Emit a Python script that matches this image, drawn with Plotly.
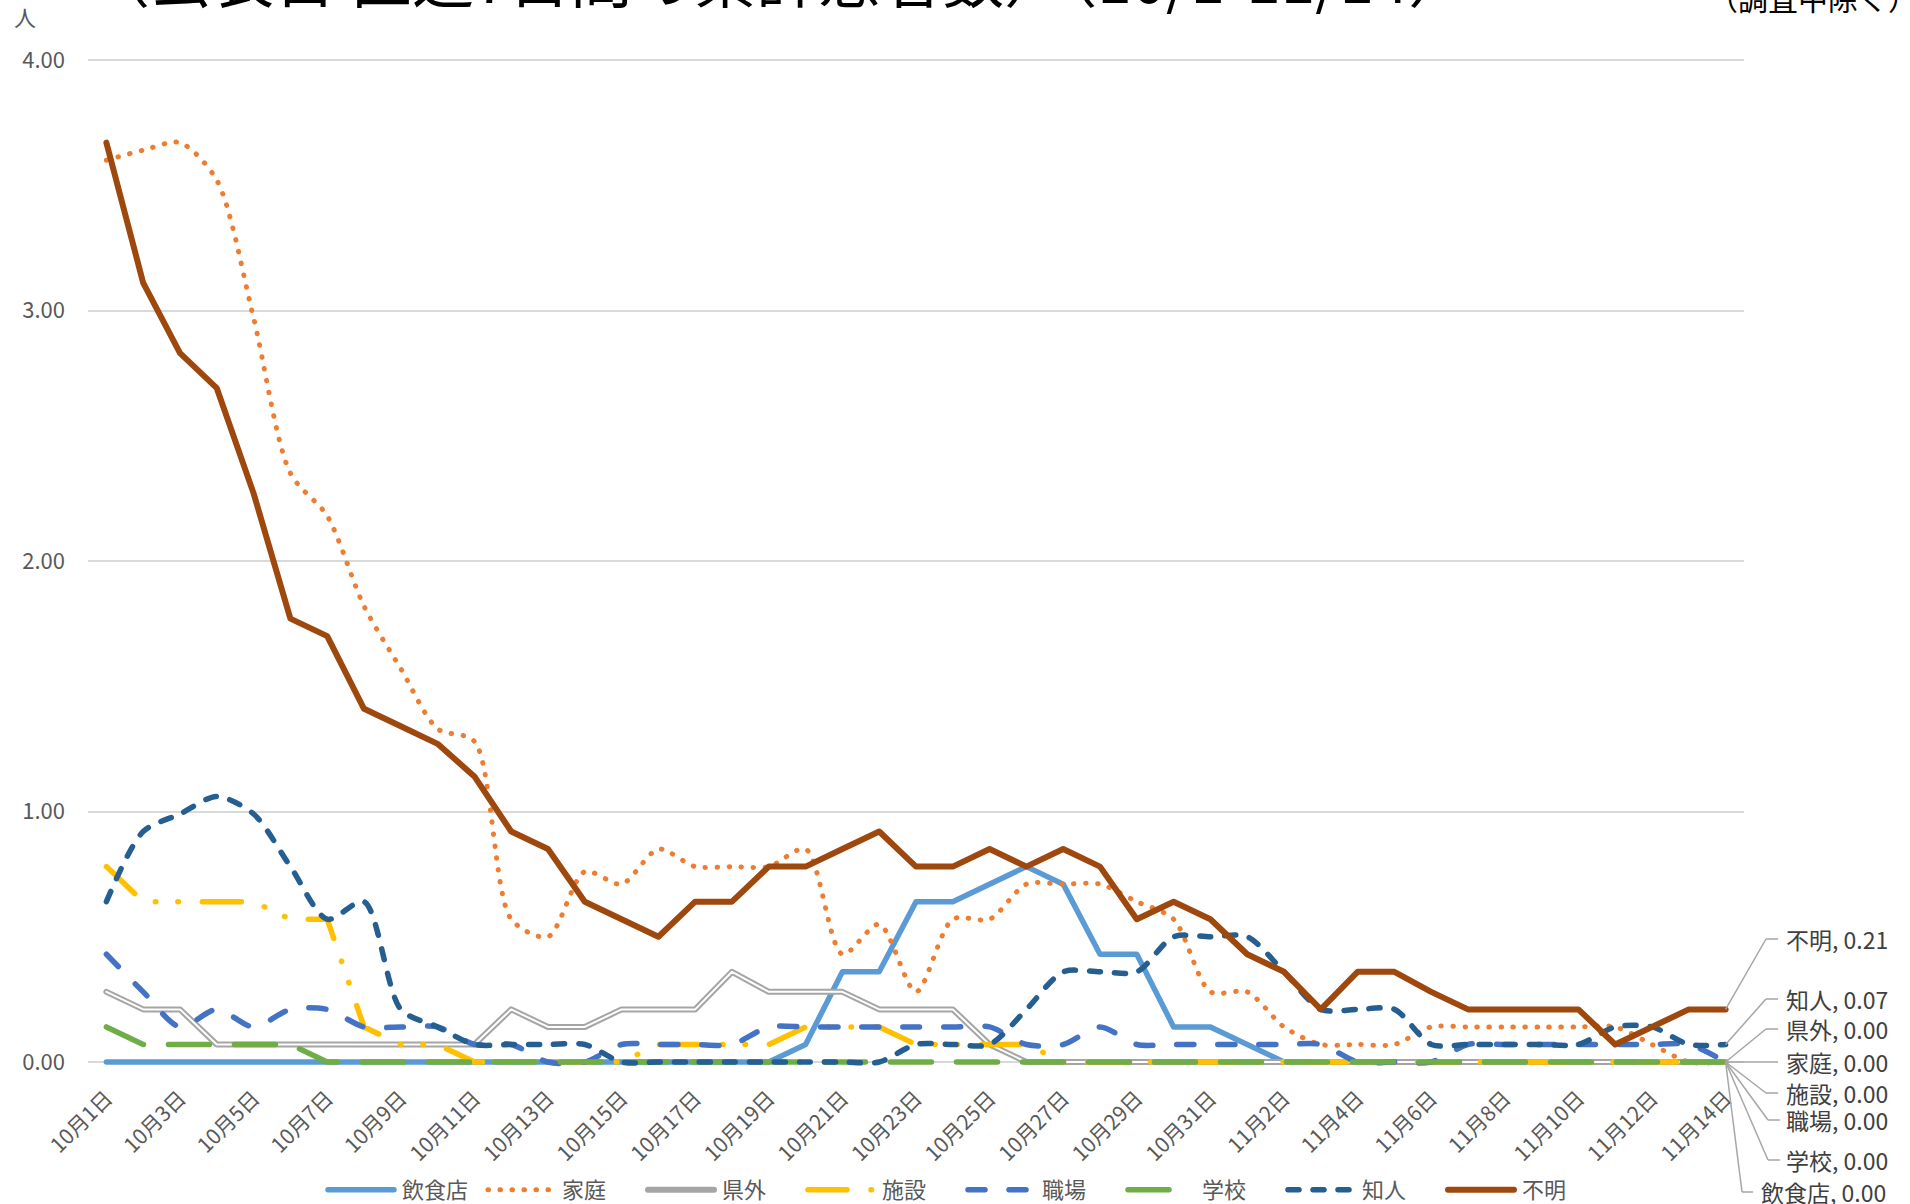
import plotly.graph_objects as go

# ---------------- data ----------------
dates = [f"10月{d}日" for d in range(1, 32)] + [f"11月{d}日" for d in range(1, 15)]

inshoku = [0, 0, 0, 0, 0, 0, 0, 0, 0, 0, 0, 0, 0, 0, 0, 0, 0, 0, 0, 0.07, 0.36, 0.36, 0.64, 0.64, 0.71,
           0.78, 0.71, 0.43, 0.43, 0.14, 0.14, 0.07, 0, 0, 0, 0, 0, 0, 0, 0, 0, 0, 0, 0, 0]
katei = [3.60, 3.64, 3.67, 3.52, 2.97, 2.35, 2.18, 1.82, 1.57, 1.33, 1.28, 0.57, 0.50, 0.76, 0.71,
         0.85, 0.78, 0.78, 0.78, 0.85, 0.43, 0.55, 0.28, 0.57, 0.57, 0.71, 0.71, 0.71, 0.64, 0.57,
         0.28, 0.28, 0.14, 0.07, 0.07, 0.07, 0.14, 0.14, 0.14, 0.14, 0.14, 0.14, 0.07, 0.0, 0.0]
kengai = [0.28, 0.21, 0.21, 0.07, 0.07, 0.07, 0.07, 0.07, 0.07, 0.07, 0.07, 0.21, 0.14, 0.14, 0.21,
          0.21, 0.21, 0.36, 0.28, 0.28, 0.28, 0.21, 0.21, 0.21, 0.07, 0, 0, 0, 0, 0, 0, 0, 0, 0, 0,
          0, 0, 0, 0, 0, 0, 0, 0, 0, 0]
shisetsu = [0.78, 0.64, 0.64, 0.64, 0.64, 0.57, 0.57, 0.14, 0.07, 0.07, 0, 0, 0, 0, 0, 0.07, 0.07,
            0.07, 0.07, 0.14, 0.14, 0.14, 0.07, 0.07, 0.07, 0.07, 0, 0, 0, 0, 0, 0, 0, 0, 0, 0, 0,
            0, 0, 0, 0, 0, 0, 0, 0]
shokuba = [0.43, 0.28, 0.14, 0.21, 0.14, 0.21, 0.21, 0.14, 0.14, 0.14, 0.07, 0.07, 0, 0, 0.07, 0.07,
           0.07, 0.07, 0.14, 0.14, 0.14, 0.14, 0.14, 0.14, 0.14, 0.07, 0.07, 0.14, 0.07, 0.07, 0.07,
           0.07, 0.07, 0.07, 0, 0, 0, 0.07, 0.07, 0.07, 0.07, 0.07, 0.07, 0.07, 0]
gakkou = [0.14, 0.07, 0.07, 0.07, 0.07, 0.07, 0, 0, 0, 0, 0, 0, 0, 0, 0, 0, 0, 0, 0, 0, 0, 0, 0, 0,
          0, 0, 0, 0, 0, 0, 0, 0, 0, 0, 0, 0, 0, 0, 0, 0, 0, 0, 0, 0, 0]
chijin = [0.64, 0.92, 0.99, 1.06, 0.99, 0.78, 0.57, 0.64, 0.21, 0.14, 0.07, 0.07, 0.07, 0.07, 0, 0, 0,
          0, 0, 0, 0, 0, 0.07, 0.07, 0.07, 0.21, 0.36, 0.36, 0.36, 0.50, 0.50, 0.50, 0.36, 0.21, 0.21,
          0.21, 0.07, 0.07, 0.07, 0.07, 0.07, 0.14, 0.14, 0.07, 0.07]
fumei = [3.67, 3.11, 2.83, 2.69, 2.27, 1.77, 1.70, 1.41, 1.34, 1.27, 1.14, 0.92, 0.85, 0.64, 0.57,
         0.50, 0.64, 0.64, 0.78, 0.78, 0.85, 0.92, 0.78, 0.78, 0.85, 0.78, 0.85, 0.78, 0.57, 0.64,
         0.57, 0.43, 0.36, 0.21, 0.36, 0.36, 0.28, 0.21, 0.21, 0.21, 0.21, 0.07, 0.14, 0.21, 0.21]

y_ticks = [0, 1, 2, 3, 4]
title_text = "（公表日 直近7日間の累計患者数）（10/1-11/14）"
note_text = "（調査中除く）"
unit_text = "人"

# ---------------- layout constants ----------------
W_FIG, H_FIG = 1910, 1204
UNIT = 250.5           # pixels per 1.00 on the y axis
Y0_PIX = 1062          # pixel row of y = 0
L, T = 88, 56
PW = 1656
PB = 1069              # bottom pixel of plot area
PH = PB - T
XR = [-0.5, len(dates) - 0.5]
YR = [-(PB - Y0_PIX) / UNIT, (Y0_PIX - T) / UNIT]

FONT = "Noto Sans CJK JP"
GRAY_TXT = "#595959"


def px(xpix):
    return (xpix - L) / PW


def py(ypix):
    return (PB - ypix) / PH


def dx(i):
    return (i - XR[0]) / (XR[1] - XR[0])


def dy(v):
    return (v - YR[0]) / (YR[1] - YR[0])


series = [
    # name, values, color, width, dash, shape
    ("飲食店", inshoku, "#5B9BD5", 5.5, "solid", "linear"),
    ("家庭", katei, "#ED7D31", 5, "0.5px,11.5px", "spline"),
    ("県外", kengai, "#A5A5A5", 6, "solid", "linear"),
    ("施設", shisetsu, "#FFC000", 5.5, "39px,24px,0.5px,22px,0.5px,24px", "linear"),
    ("職場", shokuba, "#4472C4", 5.5, "17px,24px", "spline"),
    ("学校", gakkou, "#70AD47", 5.5, "41px,25px", "linear"),
    ("知人", chijin, "#255E91", 5.5, "11px,14px", "spline"),
    ("不明", fumei, "#9E480E", 6, "solid", "linear"),
]

fig = go.Figure()
for name, vals, color, width, dash, shape in series:
    fig.add_trace(go.Scatter(
        x=dates, y=vals, mode="lines", name=name,
        line=dict(color=color, width=width, dash=dash, shape=shape, smoothing=0.8),
        hoverinfo="x+y+name",
    ))
    if name == "県外":
        # inner white stroke to mimic the double line
        fig.add_trace(go.Scatter(
            x=dates, y=vals, mode="lines", name=name, showlegend=False,
            line=dict(color="white", width=2), hoverinfo="skip",
        ))

# ---------------- end-of-line labels with leader lines ----------------
label_pos = {
    # name: (elbow_x, end_x, text_x, label_y)  in pixels
    "不明": (1766, 1778, 1784, 939),
    "知人": (1766, 1778, 1784, 999),
    "県外": (1766, 1778, 1784, 1029),
    "家庭": (1766, 1778, 1784, 1062),
    "施設": (1766, 1778, 1784, 1093),
    "職場": (1768, 1780, 1784, 1120),
    "学校": (1768, 1780, 1784, 1160),
    "飲食店": (1742, 1753, 1759, 1192),
}
last = len(dates) - 1
shapes = []
annotations = []
for name, vals, color, width, dash, shape in series:
    ex, endx, tx, ly = label_pos[name]
    x0, y0 = dx(last), dy(vals[last])
    shapes.append(dict(type="line", xref="paper", yref="paper", x0=x0, y0=y0, x1=px(ex), y1=py(ly),
                       line=dict(color="#A6A6A6", width=1.5)))
    shapes.append(dict(type="line", xref="paper", yref="paper", x0=px(ex), y0=py(ly), x1=px(endx), y1=py(ly),
                       line=dict(color="#A6A6A6", width=1.5)))
    annotations.append(dict(xref="paper", yref="paper", x=px(tx), y=py(ly), xanchor="left", yanchor="middle",
                            text=f"{name}, {vals[last]:.2f}", showarrow=False,
                            font=dict(family=FONT, size=23, color="#404040")))

annotations.append(dict(xref="paper", yref="paper", x=px(86), y=py(-24), xanchor="left", yanchor="middle",
                        text=title_text, showarrow=False, font=dict(family=FONT, size=62, color="#000000")))
annotations.append(dict(xref="paper", yref="paper", x=px(1920), y=py(-3), xanchor="right", yanchor="middle",
                        text=note_text, showarrow=False, font=dict(family=FONT, size=30, color="#000000")))
annotations.append(dict(xref="paper", yref="paper", x=px(25), y=py(16), xanchor="center", yanchor="middle",
                        text=unit_text, showarrow=False, font=dict(family=FONT, size=22, color=GRAY_TXT)))

fig.update_layout(
    width=W_FIG, height=H_FIG,
    margin=dict(l=L, r=W_FIG - L - PW, t=T, b=H_FIG - PB, pad=0, autoexpand=False),
    paper_bgcolor="white", plot_bgcolor="white",
    font=dict(family=FONT, color=GRAY_TXT, size=20),
    showlegend=True,
    legend=dict(orientation="h", x=px(962), xanchor="center",
                y=py(1190), yanchor="middle", font=dict(family=FONT, size=22, color=GRAY_TXT),
                entrywidth=75, entrywidthmode="pixels", itemwidth=70, traceorder="normal"),
    shapes=shapes,
    annotations=annotations,
    xaxis=dict(type="category", range=XR, tickmode="array", tickvals=dates[::2], ticktext=dates[::2],
               tickangle=-45, tickfont=dict(family=FONT, size=21, color=GRAY_TXT),
               showgrid=False, zeroline=False, showline=False, ticks="", ticklabelstandoff=12),
    yaxis=dict(range=YR, tickmode="array", tickvals=y_ticks, ticktext=[f"{v:.2f}" for v in y_ticks],
               tickfont=dict(family=FONT, size=22, color=GRAY_TXT),
               showgrid=True, gridcolor="#D9D9D9", gridwidth=2, zeroline=False, showline=False,
               ticks="", ticklabelstandoff=22),
)

post = """
document.body.style.margin = '0';
var gd = document.getElementById('{plot_id}');
function caps(){
  gd.querySelectorAll('path.js-line, .legendlines path').forEach(function(p){
    p.style.strokeLinecap = 'round'; p.style.strokeLinejoin = 'round';
  });
  gd.querySelectorAll('.legendlines path').forEach(function(p){
    p.setAttribute('d', 'M6,0h66');
  });
}
caps();
gd.on('plotly_afterplot', caps);
"""

fig.write_html("out.html", post_script=post, config={"displayModeBar": False})
